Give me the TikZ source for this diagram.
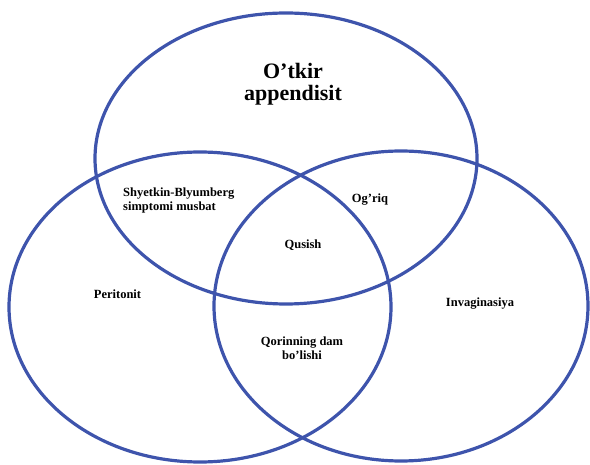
\documentclass[tikz,border=0pt]{standalone}
\usepackage{fontspec}
\setmainfont{Liberation Serif}
\definecolor{vennblue}{RGB}{62,84,172}
\tikzset{
	venn/.style={line width=3.2pt, color=vennblue},
	lbl/.style={font=\fontsize{12.5}{14}\selectfont\bfseries, inner sep=0pt},
	bigLbl/.style={font=\fontsize{22}{22}\selectfont\bfseries, inner sep=0pt, align=center}
}

\begin{document}
\begin{tikzpicture}[x=1pt, y=-1pt]
			%%%%% START %%%%%
			\useasboundingbox (0, 0) rectangle (590, 465);
			
			% the three sets
			\draw[venn] (286, 158.5) ellipse [x radius=191, y radius=145.5];
			\draw[venn] (200, 307) ellipse [x radius=191, y radius=155];
			\draw[venn] (401, 306) ellipse [x radius=187, y radius=155];
			
			\node[bigLbl] (appendisit) at (293, 84) {O’tkir\\appendisit};
			\node[lbl] (peritonit) at (117.5, 294) {Peritonit};
			\node[lbl] (invaginasiya) at (480, 304) {Invaginasiya};
			
			% overlaps
			\node[lbl, align=left, anchor=west] (shyetkin) at (123, 200) {Shyetkin-Blyumberg\\simptomi musbat};
			\node[lbl] (ogriq) at (370, 200) {Og’riq};
			\node[lbl] (qusish) at (303, 245) {Qusish};
			\node[lbl, align=center] (qorin) at (302, 348.5) {Qorinning dam\\bo’lishi};
			
			%%%%% END %%%%%
		\end{tikzpicture}
\end{document}
